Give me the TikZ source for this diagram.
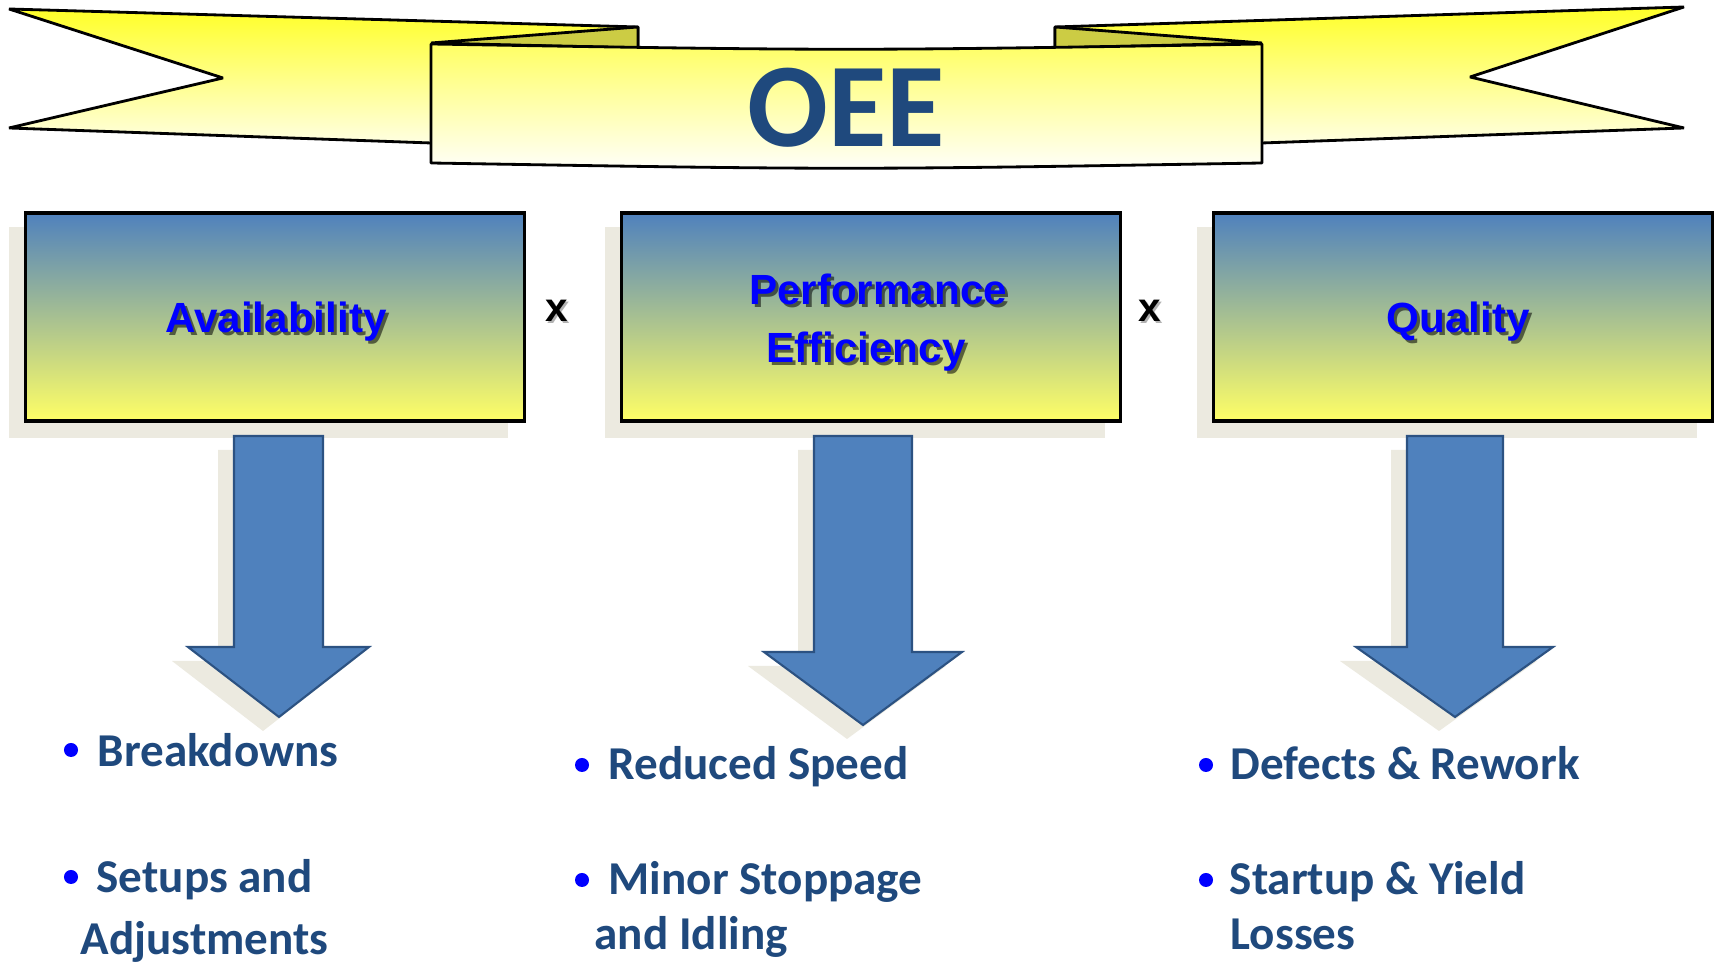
\documentclass[tikz,border=0pt]{standalone}
\usepackage{fontspec}
\newfontfamily\carlito{Carlito}
\newfontfamily\libsans{Liberation Sans}
\definecolor{oeeblue}{RGB}{31,73,125}
\definecolor{arrowfill}{RGB}{79,129,189}
\definecolor{arrowdraw}{RGB}{44,82,130}
\definecolor{shadowbeige}{RGB}{236,234,224}
\definecolor{boxtop}{RGB}{79,129,189}
\definecolor{boxbot}{RGB}{255,255,102}
\definecolor{bulletblue}{RGB}{0,0,255}
\definecolor{foldcol}{RGB}{204,204,68}
\definecolor{tailtop}{RGB}{255,255,40}
\definecolor{tailbot}{RGB}{255,255,235}
\definecolor{paneltop}{RGB}{255,255,100}
\definecolor{panelbot}{RGB}{255,255,250}
\begin{document}
\begin{tikzpicture}[x=0.01cm,y=-0.01cm,
  outline/.style={draw=black,line width=0.8pt,line join=bevel},
  tailshape/.style={outline,top color=tailtop,bottom color=tailbot},
  foldshape/.style={outline,fill=foldcol},
  panelshape/.style={outline,top color=paneltop,bottom color=panelbot},
  boxshadow/.style={fill=shadowbeige},
  factorbox/.style={draw=black,line width=0.9pt,top color=boxtop,bottom color=boxbot,
    minimum width=4.98cm,minimum height=2.08cm,inner sep=0pt},
  boxtext/.style={font=\libsans\bfseries\fontsize{12pt}{14pt}\selectfont,text=bulletblue,anchor=base,inner sep=0pt},
  boxtextsh/.style={font=\libsans\bfseries\fontsize{12pt}{14pt}\selectfont,text=black,opacity=0.55,anchor=base,inner sep=0pt},
  timessign/.style={font=\libsans\bfseries\fontsize{11.5pt}{14pt}\selectfont,text=black,anchor=base,inner sep=0pt},
  timessignsh/.style={font=\libsans\bfseries\fontsize{11.5pt}{14pt}\selectfont,text=black,opacity=0.3,anchor=base,inner sep=0pt},
  blockarrow/.style={fill=arrowfill,draw=arrowdraw,line width=0.6pt,line join=miter},
  arrowshadow/.style={fill=shadowbeige},
  bul/.style={font=\carlito\bfseries\fontsize{13.4pt}{16pt}\selectfont,text=oeeblue,anchor=base west,inner sep=0pt},
  dotmark/.style={fill=bulletblue}
]
\fill[white] (0,0) rectangle (1715,965);
\useasboundingbox (0,0) rectangle (1715,965);

% ---- banner ----
\shadedraw[tailshape] (9,9) -- (638,27) -- (638,150) -- (431,143) -- (9,128) -- (223,78) -- cycle;
\shadedraw[tailshape] (1684,7) -- (1055,27) -- (1055,150) -- (1262,143) -- (1684,128) -- (1470,77) -- cycle;
\filldraw[foldshape] (431,43) -- (638,27) -- (638,48) -- cycle;
\filldraw[foldshape] (1262,43) -- (1055,27) -- (1055,48) -- cycle;
\shadedraw[panelshape] (431,44) .. controls (846,51) .. (1262,44) -- (1262,163)
   .. controls (846,170) .. (431,163) -- cycle;
\node[font=\carlito\bfseries\fontsize{34pt}{40pt}\selectfont,text=oeeblue,anchor=base,inner sep=0pt]
   (oee) at (846,147) {OEE};

% ---- factor boxes ----
\fill[boxshadow] (9,227) rectangle (508,438);
\fill[boxshadow] (605,227) rectangle (1105,438);
\fill[boxshadow] (1197,227) rectangle (1697,438);
\node[factorbox] (avail) at (275,317) {};
\node[factorbox] (perf) at (871,317) {};
\node[factorbox] (qual) at (1463,317) {};

\node[boxtextsh] (availsh) at (279,336) {Availability};
\node[boxtext] (availtxt) at (276,333) {Availability};
\node[boxtextsh] (perfsha) at (881,308) {Performance};
\node[boxtext] (perftxta) at (878,305) {Performance};
\node[boxtextsh] (perfshb) at (869,366) {Efficiency};
\node[boxtext] (perftxtb) at (866,363) {Efficiency};
\node[boxtextsh] (qualsh) at (1461,336) {Quality};
\node[boxtext] (qualtxt) at (1458,333) {Quality};

\node[timessignsh] (times1sh) at (559,324) {x};
\node[timessign] (times1) at (557,322) {x};
\node[timessignsh] (times2sh) at (1152,324) {x};
\node[timessign] (times2) at (1150,322) {x};

% ---- block arrows ----
\begin{scope}[shift={(-16,14)}]
\fill[arrowshadow] (234,436) -- (323,436) -- (323,647) -- (369,647) -- (279,717) -- (188,647) -- (234,647) -- cycle;
\fill[arrowshadow] (814,436) -- (912,436) -- (912,652) -- (962,652) -- (863,725) -- (764,652) -- (814,652) -- cycle;
\fill[arrowshadow] (1407,436) -- (1503,436) -- (1503,647) -- (1553,647) -- (1455,717) -- (1356,647) -- (1407,647) -- cycle;
\end{scope}
\filldraw[blockarrow] (234,436) -- (323,436) -- (323,647) -- (369,647) -- (279,717) -- (188,647) -- (234,647) -- cycle;
\filldraw[blockarrow] (814,436) -- (912,436) -- (912,652) -- (962,652) -- (863,725) -- (764,652) -- (814,652) -- cycle;
\filldraw[blockarrow] (1407,436) -- (1503,436) -- (1503,647) -- (1553,647) -- (1455,717) -- (1356,647) -- (1407,647) -- cycle;

% ---- bullet lists ----
\fill[dotmark] (71,750) circle[radius=0.07cm];
\node[bul] (b1) at (97,767) {Breakdowns};
\fill[dotmark] (71,877) circle[radius=0.07cm];
\node[bul] (b2) at (96,893) {Setups and};
\node[bul] (b3) at (80,955) {Adjustments};

\fill[dotmark] (582,765) circle[radius=0.07cm];
\node[bul] (c1) at (608,780) {Reduced Speed};
\fill[dotmark] (582,880) circle[radius=0.07cm];
\node[bul] (c2) at (608,895) {Minor Stoppage};
\node[bul] (c3) at (594,950) {and Idling};

\fill[dotmark] (1206,765) circle[radius=0.07cm];
\node[bul] (d1) at (1230,780) {Defects \& Rework};
\fill[dotmark] (1206,880) circle[radius=0.07cm];
\node[bul] (d2) at (1229,895) {Startup \& Yield};
\node[bul] (d3) at (1230,950) {Losses};
\end{tikzpicture}
\end{document}
